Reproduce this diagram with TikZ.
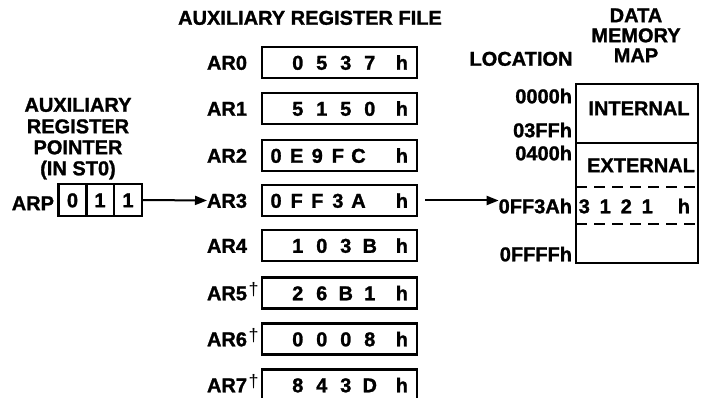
\documentclass[tikz,border=0pt]{standalone}
\usepackage{fontspec}
\setmainfont{Liberation Sans}[BoldFeatures={FakeBold=1.3}]
\usetikzlibrary{arrows.meta}
\newcommand{\dgw}[1]{\makebox[24pt]{#1}}
\newcommand{\dgn}[1]{\makebox[20.6pt]{#1}}
\newcommand{\dgm}[1]{\makebox[21pt]{#1}}
\newcommand{\regdagger}{\hspace{1.5pt}\raisebox{5pt}{\fontsize{18}{18}\selectfont\mdseries †}}
\begin{document}
\begin{tikzpicture}[x=1pt,y=-1pt,
  font=\fontsize{20}{22}\selectfont\bfseries,
  every node/.style={inner sep=0pt, outer sep=0pt},
  txt/.style={text height=14.5pt, text depth=0pt},
  regbox/.style={draw, line width=2.3pt, minimum width=155pt, minimum height=31pt},
  cell/.style={draw, line width=2.3pt, minimum width=28pt, minimum height=32pt, txt},
  arlab/.style={txt, anchor=west},
  val/.style={txt, anchor=east},
  loc/.style={txt, anchor=east},
  conn/.style={line width=2pt, -{Triangle[length=12pt,width=9pt]}},
  memline/.style={line width=2.3pt},
  memdash/.style={line width=2.3pt, dash pattern=on 11pt off 7pt}
]
\useasboundingbox (0,0) rectangle (701,398);
\clip (0,0) rectangle (701,398);

% titles
\node[txt] (title) at (310,17.5) {AUXILIARY REGISTER FILE};
\node[txt] (p1) at (78,104.5) {AUXILIARY};
\node[txt] (p2) at (78,126) {REGISTER};
\node[txt] (p3) at (78,147) {POINTER};
\node[txt] (p4) at (78,168) {(IN ST0)};

% ARP
\node[txt, anchor=east] (arp) at (54,203) {ARP};
\node[cell] (c1) at (72.5,200) {0};
\node[cell] (c2) at (100,200) {1};
\node[cell] (c3) at (128,200) {1};

% register file
\foreach \i/\y in {0/62.5,1/108.5,2/155.5,3/200.5,4/245.5,5/293,6/339,7/385}{
  \node[regbox] (r\i) at (339.5,\y) {};
}
\node[arlab] (l0) at (207,62.5) {AR0};
\node[arlab] (l1) at (207,108.5) {AR1};
\node[arlab] (l2) at (207,155.5) {AR2};
\node[arlab] (l3) at (207,200.5) {AR3};
\node[arlab] (l4) at (207,245.5) {AR4};
\node[arlab] (l5) at (207,293) {AR5\regdagger};
\node[arlab] (l6) at (207,339) {AR6\regdagger};
\node[arlab] (l7) at (207,385) {AR7\regdagger};

\node[val] (v0) at (408,62.5) {\dgw{0}\dgw{5}\dgw{3}\dgw{7}\hspace{14pt}h};
\node[val] (v1) at (408,108.5) {\dgw{5}\dgw{1}\dgw{5}\dgw{0}\hspace{14pt}h};
\node[val] (v2) at (408,155.5) {\dgn{0}\dgn{E}\dgn{9}\dgn{F}\dgn{C}\hspace{27pt}h};
\node[val] (v3) at (408,200.5) {\dgn{0}\dgn{F}\dgn{F}\dgn{3}\dgn{A}\hspace{27pt}h};
\node[val] (v4) at (408,245.5) {\dgw{1}\dgw{0}\dgw{3}\dgw{B}\hspace{14pt}h};
\node[val] (v5) at (408,293) {\dgw{2}\dgw{6}\dgw{B}\dgw{1}\hspace{14pt}h};
\node[val] (v6) at (408,339) {\dgw{0}\dgw{0}\dgw{0}\dgw{8}\hspace{14pt}h};
\node[val] (v7) at (408,385) {\dgw{8}\dgw{4}\dgw{3}\dgw{D}\hspace{14pt}h};

% data memory map
\node[txt] (d1) at (636,15) {DATA};
\node[txt] (d2) at (636,35) {MEMORY};
\node[txt] (d3) at (636,55) {MAP};
\node[txt] (loctitle) at (521,58.5) {LOCATION};

\draw[memline] (576,84) rectangle (698,263);
\draw[memline] (576,143) -- (698,143);
\draw[memdash] (576,187) -- (698,187);
\draw[memdash] (576,224) -- (698,224);
\node[txt] (int) at (639,108) {INTERNAL};
\node[txt] (ext) at (641,165) {EXTERNAL};
\node[val] (mval) at (690,206) {\dgm{3}\dgm{1}\dgm{2}\dgm{1}\hspace{20pt}h};

\node[loc] (a0) at (572,96) {0000h};
\node[loc] (a1) at (572,130) {03FFh};
\node[loc] (a2) at (572,153) {0400h};
\node[loc] (a3) at (572,206) {0FF3Ah};
\node[loc] (a4) at (572,254) {0FFFFh};

% connectors
\draw[conn] (c3.east) -- (l3.west);
\draw[conn, shorten <=8pt] (r3.east) -- (r3.east -| a3.west);
\end{tikzpicture}
\end{document}
